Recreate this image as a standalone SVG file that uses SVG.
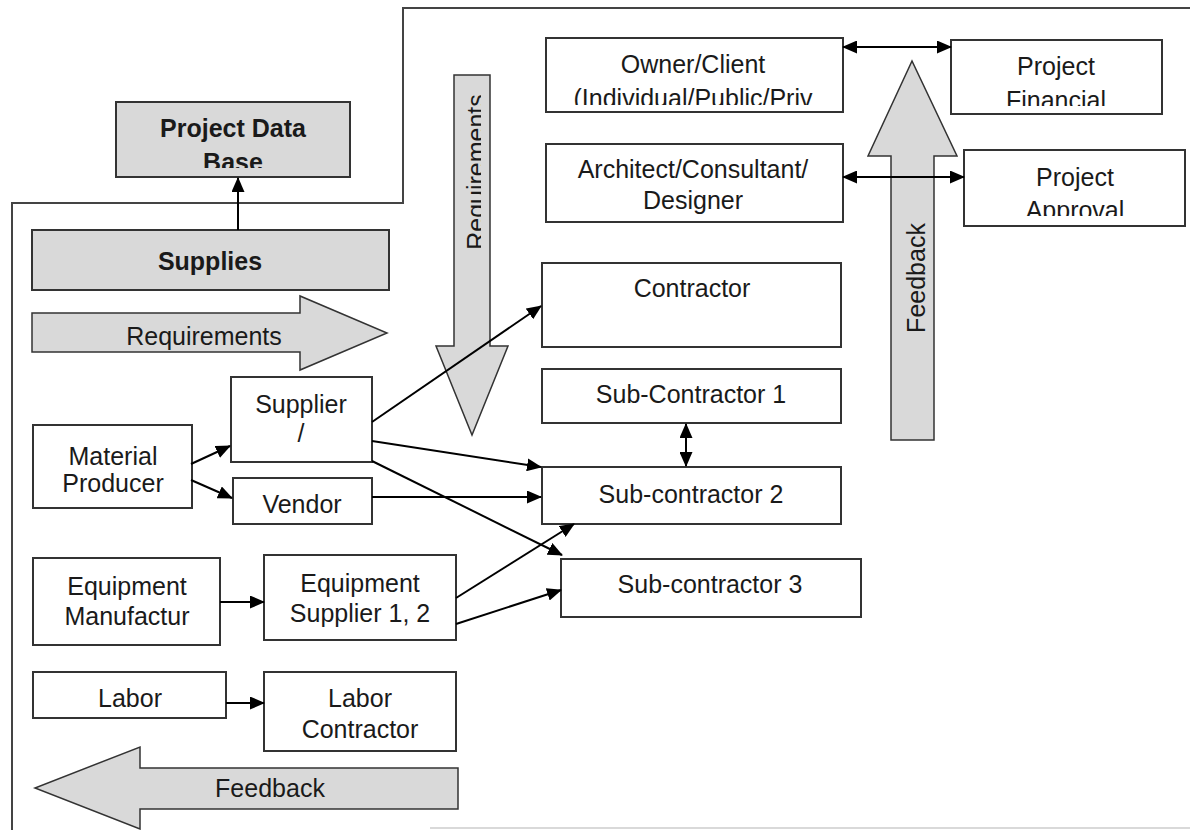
<svg xmlns="http://www.w3.org/2000/svg" width="1190" height="830" viewBox="0 0 1190 830">
<style>
  .box{fill:#fff;stroke:#333;stroke-width:2}
  .gbox{fill:#d9d9d9;stroke:#333;stroke-width:2}
  .big{fill:#d9d9d9;stroke:#333;stroke-width:1.5}
  .t{font-family:"Liberation Sans",Arial,sans-serif;font-size:25px;fill:#1a1a1a;text-anchor:middle}
  .b{font-weight:bold}
  .c{fill:none;stroke:#000;stroke-width:2}
  .frame{fill:none;stroke:#444;stroke-width:2}
</style>
<defs>
  <marker id="ah" markerUnits="userSpaceOnUse" markerWidth="15" markerHeight="13" refX="14" refY="6.5" orient="auto-start-reverse">
    <path d="M0,0 L15,6.5 L0,13 Z" fill="#000"/>
  </marker>
  <clipPath id="cPDB"><rect x="117" y="103" width="232" height="65"/></clipPath>
  <clipPath id="cOwner"><rect x="547" y="39" width="295" height="66"/></clipPath>
  <clipPath id="cFin"><rect x="952" y="41" width="209" height="65"/></clipPath>
  <clipPath id="cApp"><rect x="965" y="151" width="219" height="65"/></clipPath>
  <clipPath id="cReqV"><rect x="455" y="76" width="26" height="268"/></clipPath>
</defs>
<rect width="1190" height="830" fill="#fff"/>

<g id="frame">
  <path class="frame" d="M12,830 L12,203 L403,203 L403,8 L1190,8"/>
  <line x1="430" y1="828" x2="1190" y2="828" stroke="#ccc" stroke-width="1.5"/>
</g>

<g id="project-data-base">
  <rect class="gbox" x="116" y="102" width="234" height="75"/>
  <g clip-path="url(#cPDB)">
    <text class="t b" x="233" y="137">Project Data</text>
    <text class="t b" x="233" y="171">Base</text>
  </g>
</g>

<g id="supplies">
  <rect class="gbox" x="32" y="230" width="357" height="60"/>
  <text class="t b" x="210" y="270">Supplies</text>
</g>

<g id="requirements-right">
  <path class="big" d="M32,313 L300,313 L300,296 L387,333 L300,370 L300,352 L32,352 Z"/>
  <text class="t" x="204" y="345">Requirements</text>
</g>

<g id="requirements-down">
  <path class="big" d="M454,75 L490,75 L490,346 L508,346 L472,435 L436,346 L454,346 Z"/>
  <g clip-path="url(#cReqV)">
    <text class="t" transform="translate(485,172) rotate(-90)" x="0" y="0">Requirements</text>
  </g>
</g>

<g id="feedback-up">
  <path class="big" d="M891,440 L891,156 L868,156 L912,61 L957,156 L934,156 L934,440 Z"/>
  <text class="t" transform="translate(925,278) rotate(-90)" x="0" y="0">Feedback</text>
</g>

<g id="feedback-left">
  <path class="big" d="M458,768 L140,768 L140,747 L35,788 L140,829 L140,809 L458,809 Z"/>
  <text class="t" x="270" y="797">Feedback</text>
</g>

<g id="owner-client">
  <rect class="box" x="546" y="38" width="297" height="74"/>
  <g clip-path="url(#cOwner)">
    <text class="t" x="693" y="73">Owner/Client</text>
    <text class="t" x="693" y="107">(Individual/Public/Priv</text>
  </g>
</g>

<g id="architect">
  <rect class="box" x="546" y="144" width="297" height="78"/>
  <text class="t" x="693" y="178">Architect/Consultant/</text>
  <text class="t" x="693" y="209">Designer</text>
</g>

<g id="project-financial">
  <rect class="box" x="951" y="40" width="211" height="74"/>
  <g clip-path="url(#cFin)">
    <text class="t" x="1056" y="75">Project</text>
    <text class="t" x="1056" y="109">Financial</text>
  </g>
</g>

<g id="project-approval">
  <rect class="box" x="964" y="150" width="221" height="76"/>
  <g clip-path="url(#cApp)">
    <text class="t" x="1075" y="186">Project</text>
    <text class="t" x="1075" y="219">Approval</text>
  </g>
</g>

<g id="contractor">
  <rect class="box" x="542" y="263" width="299" height="84"/>
  <text class="t" x="692" y="297">Contractor</text>
</g>

<g id="sub-contractor-1">
  <rect class="box" x="542" y="369" width="299" height="54"/>
  <text class="t" x="691" y="403">Sub-Contractor 1</text>
</g>

<g id="sub-contractor-2">
  <rect class="box" x="542" y="467" width="299" height="57"/>
  <text class="t" x="691" y="503">Sub-contractor 2</text>
</g>

<g id="sub-contractor-3">
  <rect class="box" x="561" y="559" width="300" height="58"/>
  <text class="t" x="710" y="593">Sub-contractor 3</text>
</g>

<g id="supplier">
  <rect class="box" x="231" y="377" width="141" height="85"/>
  <text class="t" x="301" y="413">Supplier</text>
  <text class="t" x="301" y="442">/</text>
</g>

<g id="material-producer">
  <rect class="box" x="33" y="425" width="159" height="83"/>
  <text class="t" x="113" y="465">Material</text>
  <text class="t" x="113" y="492">Producer</text>
</g>

<g id="vendor">
  <rect class="box" x="233" y="478" width="139" height="46"/>
  <text class="t" x="302" y="513">Vendor</text>
</g>

<g id="equipment-manufactur">
  <rect class="box" x="33" y="558" width="187" height="87"/>
  <text class="t" x="127" y="595">Equipment</text>
  <text class="t" x="127" y="625">Manufactur</text>
</g>

<g id="equipment-supplier">
  <rect class="box" x="264" y="555" width="192" height="85"/>
  <text class="t" x="360" y="592">Equipment</text>
  <text class="t" x="360" y="622">Supplier 1, 2</text>
</g>

<g id="labor">
  <rect class="box" x="33" y="672" width="193" height="46"/>
  <text class="t" x="130" y="707">Labor</text>
</g>

<g id="labor-contractor">
  <rect class="box" x="264" y="672" width="192" height="79"/>
  <text class="t" x="360" y="707">Labor</text>
  <text class="t" x="360" y="738">Contractor</text>
</g>

<g id="connectors">
  <line class="c" x1="238" y1="230" x2="238" y2="178" marker-end="url(#ah)"/>
  <line class="c" x1="191" y1="464" x2="230" y2="446" marker-end="url(#ah)"/>
  <line class="c" x1="191" y1="480" x2="232" y2="498" marker-end="url(#ah)"/>
  <line class="c" x1="372" y1="422" x2="541" y2="306" marker-end="url(#ah)"/>
  <line class="c" x1="372" y1="441" x2="541" y2="467" marker-end="url(#ah)"/>
  <line class="c" x1="372" y1="461" x2="562" y2="555" marker-end="url(#ah)"/>
  <line class="c" x1="372" y1="497" x2="541" y2="497" marker-end="url(#ah)"/>
  <line class="c" x1="456" y1="598" x2="574" y2="524" marker-end="url(#ah)"/>
  <line class="c" x1="456" y1="624" x2="561" y2="590" marker-end="url(#ah)"/>
  <line class="c" x1="220" y1="602" x2="264" y2="602" marker-end="url(#ah)"/>
  <line class="c" x1="226" y1="703" x2="264" y2="703" marker-end="url(#ah)"/>
  <line class="c" x1="686" y1="424" x2="686" y2="466" marker-start="url(#ah)" marker-end="url(#ah)"/>
  <line class="c" x1="843" y1="47" x2="951" y2="47" marker-start="url(#ah)" marker-end="url(#ah)"/>
  <line class="c" x1="843" y1="177" x2="964" y2="177" marker-start="url(#ah)" marker-end="url(#ah)"/>
</g>
</svg>
